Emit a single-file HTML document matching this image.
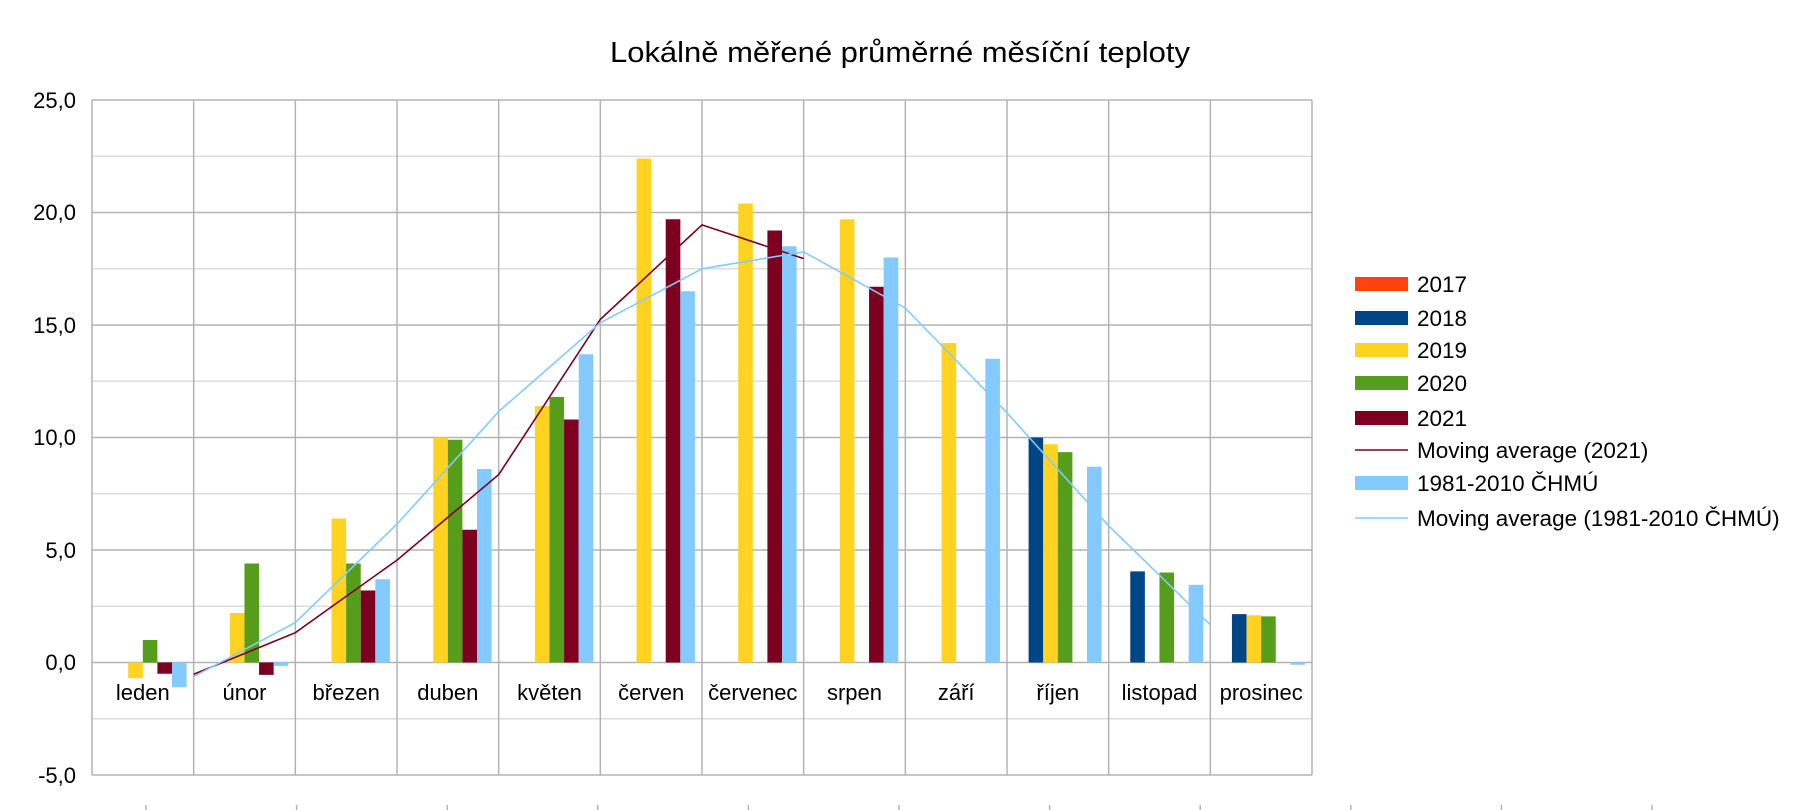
<!DOCTYPE html>
<html><head><meta charset="utf-8"><style>
html,body{margin:0;padding:0;background:#fff}
svg{display:block}
text{font-family:"Liberation Sans",sans-serif;fill:#000}
</style></head><body>
<svg id="s" width="1800" height="810" viewBox="0 0 1800 810" xmlns="http://www.w3.org/2000/svg">
<rect width="1800" height="810" fill="#fff"/>
<g id="grid"></g>
<g id="bars"></g>
<g id="lines"></g>
<text x="900" y="62" font-size="29" text-anchor="middle" textLength="580" lengthAdjust="spacingAndGlyphs">Lokálně měřené průměrné měsíční teploty</text>
<g font-size="22" text-anchor="end">
<text x="76" y="108">25,0</text>
<text x="76" y="220">20,0</text>
<text x="76" y="333">15,0</text>
<text x="76" y="445">10,0</text>
<text x="76" y="558">5,0</text>
<text x="76" y="670">0,0</text>
<text x="76" y="783">-5,0</text>
</g>
<g font-size="22" text-anchor="middle">
<text x="142.8" y="700">leden</text>
<text x="244.5" y="700">únor</text>
<text x="346.2" y="700">březen</text>
<text x="447.8" y="700">duben</text>
<text x="549.5" y="700">květen</text>
<text x="651.2" y="700">červen</text>
<text x="752.8" y="700">červenec</text>
<text x="854.5" y="700">srpen</text>
<text x="956.2" y="700">září</text>
<text x="1057.8" y="700">říjen</text>
<text x="1159.5" y="700">listopad</text>
<text x="1261.2" y="700">prosinec</text>
</g>
<g font-size="22.5">
<rect x="1355" y="277" width="53" height="14" fill="#ff420e"/><text x="1417" y="292">2017</text>
<rect x="1355" y="311" width="53" height="14" fill="#004586"/><text x="1417" y="326">2018</text>
<rect x="1355" y="343" width="53" height="14" fill="#ffd320"/><text x="1417" y="358">2019</text>
<rect x="1355" y="376" width="53" height="14" fill="#579d1c"/><text x="1417" y="391">2020</text>
<rect x="1355" y="411" width="53" height="14" fill="#7e0021"/><text x="1417" y="426">2021</text>
<line x1="1355" y1="450" x2="1408" y2="450" stroke="#7e0021" stroke-width="1.5"/><text x="1417" y="458">Moving average (2021)</text>
<rect x="1355" y="476" width="53" height="14" fill="#83caff"/><text x="1417" y="491">1981-2010 ČHMÚ</text>
<line x1="1355" y1="518" x2="1408" y2="518" stroke="#83caff" stroke-width="1.5"/><text x="1417" y="526">Moving average (1981-2010 ČHMÚ)</text>
</g>
</svg>
<script>
(function(){
var NS="http://www.w3.org/2000/svg";
function el(p,t,a){var e=document.createElementNS(NS,t);for(var k in a)e.setAttribute(k,a[k]);document.getElementById(p).appendChild(e);return e;}
var X0=92,X1=1312,CW=(X1-X0)/12;
function Y(v){return 662.5-v*22.5;}
for(var v=-2.5;v<25;v+=5){el("grid","line",{x1:X0,x2:X1,y1:Y(v),y2:Y(v),stroke:"#dddddd","stroke-width":1.5});}
for(var v=-5;v<=25;v+=5){el("grid","line",{x1:X0,x2:X1,y1:Y(v),y2:Y(v),stroke:"#b3b3b3","stroke-width":1.5});}
for(var i=0;i<=12;i++){var x=X0+i*CW;el("grid","line",{x1:x,x2:x,y1:Y(25),y2:Y(-5),stroke:"#b3b3b3","stroke-width":1.5});}
for(var i=0;i<11;i++){var x=146+i*150.6;el("grid","line",{x1:x,x2:x,y1:805,y2:810,stroke:"#b3b3b3","stroke-width":1.5});}
var cols=["#ff420e","#004586","#ffd320","#579d1c","#7e0021","#83caff"];
var N=null;
var data=[
[N,N,N,N,N,N,N,N,N,N,N,N],
[N,N,N,N,N,N,N,N,N,10.0,4.05,2.15],
[-0.7,2.2,6.4,10.0,11.4,22.4,20.4,19.7,14.2,9.7,N,2.1],
[1.0,4.4,4.4,9.9,11.8,N,N,N,N,9.35,4.0,2.05],
[-0.5,-0.55,3.2,5.9,10.8,19.7,19.2,16.7,N,N,N,N],
[-1.1,-0.15,3.7,8.6,13.7,16.5,18.5,18.0,13.5,8.7,3.45,-0.1]
];
var SW=14.6;
for(var s=0;s<6;s++)for(var i=0;i<12;i++){var v=data[s][i];if(v===N)continue;
var x=X0+i*CW+7+s*SW;var y0=Y(0),y1=Y(v);
el("bars","rect",{x:x,y:Math.min(y0,y1),width:SW,height:Math.max(1.5,Math.abs(y1-y0)),fill:cols[s]});}
function ma(s,col){var pts=[];for(var i=1;i<12;i++){var a=data[s][i-1],b=data[s][i];if(a===N||b===N)continue;pts.push((X0+i*CW).toFixed(1)+","+Y((a+b)/2).toFixed(1));}
el("lines","polyline",{points:pts.join(" "),fill:"none",stroke:col,"stroke-width":1.6});}
ma(4,"#7e0021");ma(5,"#83caff");
})();
</script>
</body></html>
